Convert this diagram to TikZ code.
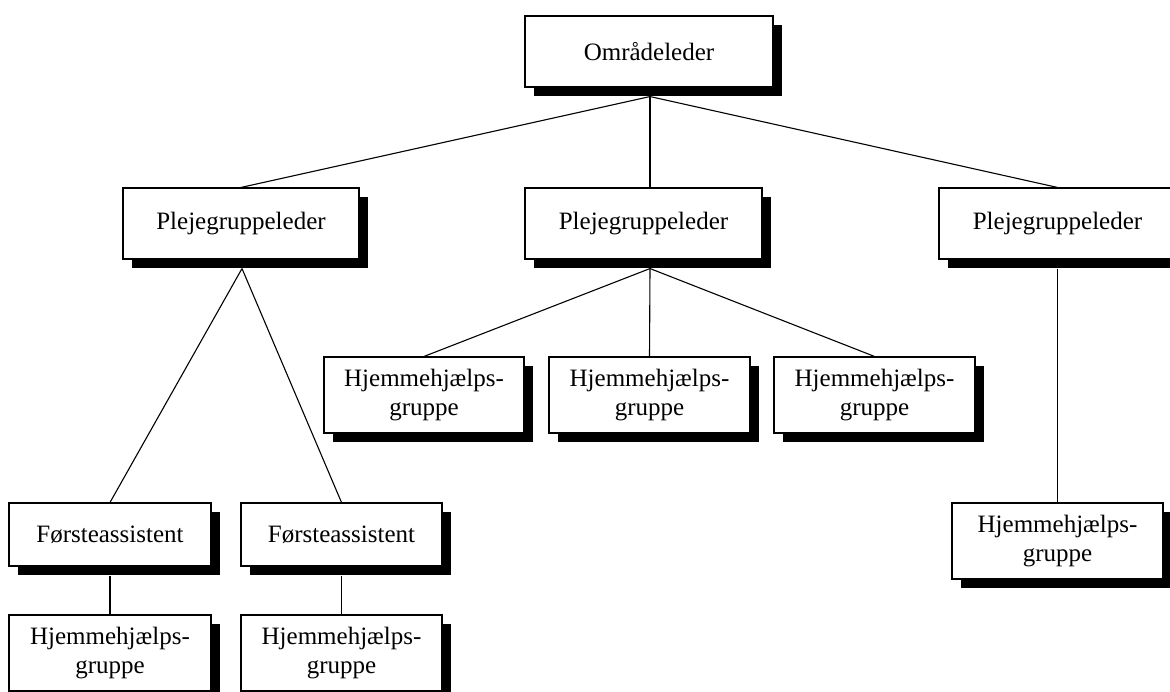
\documentclass[tikz,border=0pt]{standalone}
\usepackage{fontspec}
\setmainfont{Liberation Serif}
\usetikzlibrary{shadows,calc}

\begin{document}
\begin{tikzpicture}[x=1pt,y=-1pt,
  orgbox/.style={draw=black, line width=1.1pt, fill=white, inner sep=0pt,
    align=center, font=\fontsize{25}{29}\selectfont,
    drop shadow={shadow xshift=9pt, shadow yshift=-9pt, fill=black, opacity=1}},
  link/.style={draw=black, line width=1.1pt}]

\path[use as bounding box, clip] (0,0) rectangle (1170,692);

% top level
\node[orgbox, minimum width=248pt, minimum height=71pt] (top) at (649,51.5) {Områdeleder};

% group leaders
\node[orgbox, minimum width=236pt, minimum height=71pt] (pl) at (241,223.5) {Plejegruppeleder};
\node[orgbox, minimum width=237pt, minimum height=71pt] (pm) at (643.5,223.5) {Plejegruppeleder};
\node[orgbox, minimum width=237pt, minimum height=71pt] (pr) at (1057.5,223.5) {Plejegruppeleder};

% middle branch groups
\node[orgbox, minimum width=200pt, minimum height=76pt] (hm1) at (424,395) {Hjemmehjælps-\\gruppe};
\node[orgbox, minimum width=201pt, minimum height=76pt] (hm2) at (649.5,395) {Hjemmehjælps-\\gruppe};
\node[orgbox, minimum width=201pt, minimum height=76pt] (hm3) at (874.5,395) {Hjemmehjælps-\\gruppe};

% left branch
\node[orgbox, minimum width=202pt, minimum height=63pt] (fl) at (110,534.5) {Førsteassistent};
\node[orgbox, minimum width=201pt, minimum height=63pt] (fr) at (341.5,534.5) {Førsteassistent};
\node[orgbox, minimum width=202pt, minimum height=76pt] (hl) at (110,653) {Hjemmehjælps-\\gruppe};
\node[orgbox, minimum width=201pt, minimum height=76pt] (hl2) at (341.5,653) {Hjemmehjælps-\\gruppe};

% right branch
\node[orgbox, minimum width=211pt, minimum height=76pt] (hr) at (1057.5,541) {Hjemmehjælps-\\gruppe};

% connection hubs below each parent's shadow
\coordinate (tophub) at ($(top.south)+(1,9)$);
\coordinate (pmtop) at (pm.north -| tophub);
\coordinate (pmhub) at ($(pm.south -| tophub)+(0,9)$);
\coordinate (plhub) at ($(pl.south)+(1,9)$);
\coordinate (prhub) at ($(pr.south)+(0,9)$);
\coordinate (flhub) at ($(fl.south)+(0,9)$);
\coordinate (frhub) at ($(fr.south)+(0,9)$);

% connectors
\draw[link] (tophub) -- (pl.north);
\draw[link] (tophub) -- (pmtop);
\draw[link] (tophub) -- (pr.north);

\draw[link] (pmhub) -- (hm1.north);
\draw[link] (pmhub) -- (hm2.north);
\draw[link] (pmhub) -- (hm3.north);

\draw[link] (plhub) -- (fl.north);
\draw[link] (plhub) -- (fr.north);
\draw[link] (flhub) -- (hl.north);
\draw[link] (frhub) -- (hl2.north);

\draw[link] (prhub) -- (hr.north);
\end{tikzpicture}
\end{document}
